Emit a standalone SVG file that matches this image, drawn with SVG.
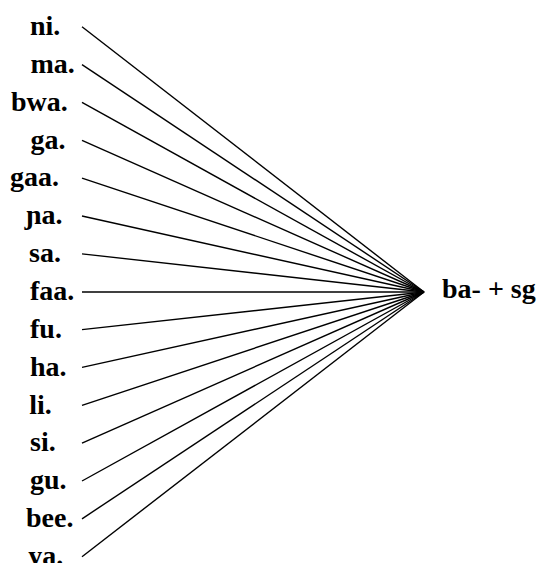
<svg xmlns="http://www.w3.org/2000/svg" width="540" height="563" viewBox="0 0 540 563">
<style>
.t { font-family: 'Liberation Serif', 'Times New Roman', Times, serif; font-weight: 700; font-size: 28px; fill: #000; }
.c line { stroke: #000; stroke-width: 1.4; }
</style>
<rect width="540" height="563" fill="#fff"/>
<g class="c" id="connectors">
<line x1="82" y1="26.7" x2="424" y2="292"/>
<line x1="82" y1="64.6" x2="424" y2="292"/>
<line x1="82" y1="102.4" x2="424" y2="292"/>
<line x1="82" y1="140.3" x2="424" y2="292"/>
<line x1="82" y1="178.1" x2="424" y2="292"/>
<line x1="82" y1="216" x2="424" y2="292"/>
<line x1="82" y1="253.9" x2="424" y2="292"/>
<line x1="82" y1="292" x2="424" y2="292"/>
<line x1="82" y1="329.6" x2="424" y2="292"/>
<line x1="82" y1="367.4" x2="424" y2="292"/>
<line x1="82" y1="405.3" x2="424" y2="292"/>
<line x1="82" y1="443.1" x2="424" y2="292"/>
<line x1="82" y1="481" x2="424" y2="292"/>
<line x1="82" y1="518.8" x2="424" y2="292"/>
<line x1="82" y1="556.7" x2="424" y2="292"/>
</g>
<g id="n-ni"><text class="t" x="30" y="35">ni.</text></g>
<g id="n-ma"><text class="t" x="30.5" y="72.8">ma.</text></g>
<g id="n-bwa"><text class="t" x="11" y="110.7">bwa.</text></g>
<g id="n-ga"><text class="t" x="30.5" y="148.5">ga.</text></g>
<g id="n-gaa"><text class="t" x="10" y="186.4">gaa.</text></g>
<g id="n-nya"><text class="t" x="26" y="224.2">ɲa.</text></g>
<g id="n-sa"><text class="t" x="29" y="262.1">sa.</text></g>
<g id="n-faa"><text class="t" x="30" y="299.9">faa.</text></g>
<g id="n-fu"><text class="t" x="30" y="337.8">fu.</text></g>
<g id="n-ha"><text class="t" x="30" y="375.6">ha.</text></g>
<g id="n-li"><text class="t" x="29.3" y="413.5">li.</text></g>
<g id="n-si"><text class="t" x="30" y="451.3">si.</text></g>
<g id="n-gu"><text class="t" x="30" y="489.2">gu.</text></g>
<g id="n-bee"><text class="t" x="26" y="527">bee.</text></g>
<g id="n-ya"><text class="t" x="28.3" y="564.9">ya.</text></g>
<g id="n-target"><text class="t" x="442" y="297.5">ba- + sg</text></g>
</svg>
